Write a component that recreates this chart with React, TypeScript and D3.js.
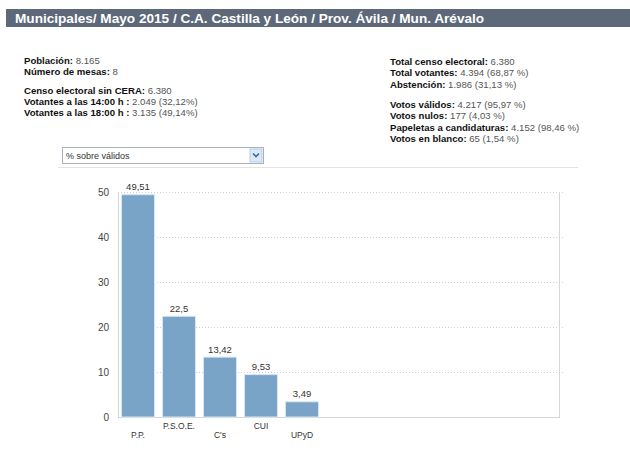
import React, { useEffect, useRef } from 'react';
import * as d3 from 'd3';

const parties = ['P.P.', 'P.S.O.E.', "C's", 'CUI', 'UPyD'];
const pctValidos = [49.51, 22.5, 13.42, 9.53, 3.49];
const yTicks = [0, 10, 20, 30, 40, 50];

const leftInfo: [string, string][][] = [
  [['Población:', ' 8.165'], ['Número de mesas:', ' 8']],
  [['Censo electoral sin CERA:', ' 6.380'], ['Votantes a las 14:00 h :', ' 2.049 (32,12%)'], ['Votantes a las 18:00 h :', ' 3.135 (49,14%)']],
];
const rightInfo: [string, string][][] = [
  [['Total censo electoral:', ' 6.380'], ['Total votantes:', ' 4.394 (68,87 %)'], ['Abstención:', ' 1.986 (31,13 %)']],
  [['Votos válidos:', ' 4.217 (95,97 %)'], ['Votos nulos:', ' 177 (4,03 %)'], ['Papeletas a candidaturas:', ' 4.152 (98,46 %)'], ['Votos en blanco:', ' 65 (1,54 %)']],
];

const font = 'Arial, "Liberation Sans", sans-serif';
const fmt = (v: number) => String(v).replace('.', ',');

const App: React.FC = () => {
  const svgRef = useRef<SVGSVGElement>(null);

  useEffect(() => {
    if (!svgRef.current) return;
    const svg = d3.select(svgRef.current);
    svg.selectAll('*').remove();
    svg.style('font-family', font);

    // header
    svg.append('rect').attr('x', 6).attr('y', 9).attr('width', 624).attr('height', 18).attr('fill', '#5d6878');
    svg.append('text').attr('x', 15).attr('y', 23).attr('fill', '#fff')
      .style('font-size', '13.6px').style('font-weight', 'bold')
      .text('Municipales/ Mayo 2015 / C.A. Castilla y León / Prov. Ávila / Mun. Arévalo');

    // info blocks
    const drawBlock = (groups: [string, string][][], x: number, y0: number, gap: number, lh: number) => {
      let y = y0;
      groups.forEach(g => {
        g.forEach(([k, v]) => {
          const t = svg.append('text').attr('x', x).attr('y', y).style('font-size', '9.6px');
          t.append('tspan').attr('fill', '#111').style('font-weight', 'bold').text(k);
          t.append('tspan').attr('fill', '#555').text(v);
          y += lh;
        });
        y += gap;
      });
    };
    drawBlock(leftInfo, 24, 64, 7, 11.3);
    drawBlock(rightInfo, 390, 65, 9, 11.3);

    // dropdown
    svg.append('rect').attr('x', 62.5).attr('y', 147.5).attr('width', 201).attr('height', 16)
      .attr('fill', '#fff').attr('stroke', '#a9b0b8');
    svg.append('text').attr('x', 66).attr('y', 159).attr('fill', '#333').style('font-size', '9px').text('% sobre válidos');
    svg.append('rect').attr('x', 250).attr('y', 149).attr('width', 12).attr('height', 13)
      .attr('fill', '#dce8f6').attr('stroke', '#b7cbe3');
    svg.append('path').attr('d', 'M253,153.5 L256,156.5 L259,153.5').attr('fill', 'none')
      .attr('stroke', '#3e6aa8').attr('stroke-width', 1.6);

    // separator
    svg.append('line').attr('x1', 58).attr('x2', 578).attr('y1', 167.5).attr('y2', 167.5).attr('stroke', '#e3e3e3');

    // chart
    const left = 118, right = 559, top = 192, bottom = 417;
    const y = d3.scaleLinear().domain([0, 50]).range([bottom, top]);
    const x = d3.scaleBand<string>().domain(parties).range([121, 319]).paddingInner(7 / 41).paddingOuter(0);

    const g = svg.append('g');
    yTicks.filter(t => t > 0).forEach(t => {
      g.append('line').attr('x1', left).attr('x2', right + 5).attr('y1', y(t) + 0.5).attr('y2', y(t) + 0.5)
        .attr('stroke', '#cfcfcf').attr('stroke-dasharray', '1,2');
    });
    g.append('line').attr('x1', left + 0.5).attr('x2', left + 0.5).attr('y1', top).attr('y2', bottom).attr('stroke', '#d6d6d6');
    g.append('line').attr('x1', right + 0.5).attr('x2', right + 0.5).attr('y1', top).attr('y2', bottom).attr('stroke', '#d6d6d6');
    g.append('line').attr('x1', left).attr('x2', right + 1).attr('y1', bottom + 0.5).attr('y2', bottom + 0.5).attr('stroke', '#d6d6d6');

    g.selectAll('.tick').data(yTicks).enter().append('text')
      .attr('x', 109).attr('y', d => y(d) + 3.5).attr('text-anchor', 'end')
      .attr('fill', '#444').style('font-size', '10px').text(d => String(d));

    g.selectAll('.bar').data(parties).enter().append('rect')
      .attr('x', d => x(d)! + 0.5).attr('width', x.bandwidth() - 1)
      .attr('y', (d, i) => y(pctValidos[i]) + 0.5).attr('height', (d, i) => bottom - y(pctValidos[i]) - 0.5)
      .attr('fill', '#7aa3c8').attr('stroke', '#d7e6f5').attr('stroke-width', 1);

    g.selectAll('.val').data(parties).enter().append('text')
      .attr('x', d => x(d)! + x.bandwidth() / 2).attr('y', (d, i) => y(pctValidos[i]) - 4)
      .attr('text-anchor', 'middle').attr('fill', '#333').style('font-size', '9.5px')
      .text((d, i) => fmt(pctValidos[i]));

    g.selectAll('.cat').data(parties).enter().append('text')
      .attr('x', d => x(d)! + x.bandwidth() / 2).attr('y', (d, i) => (i % 2 === 0 ? 438 : 429))
      .attr('text-anchor', 'middle').attr('fill', '#333').style('font-size', '8.5px')
      .text(d => d);
  }, []);

  return (
    <div style={{ position: 'absolute', left: 0, top: 0 }}>
      <svg ref={svgRef} width={630} height={466} style={{ display: 'block', background: '#fff' }} />
    </div>
  );
};

export default App;
